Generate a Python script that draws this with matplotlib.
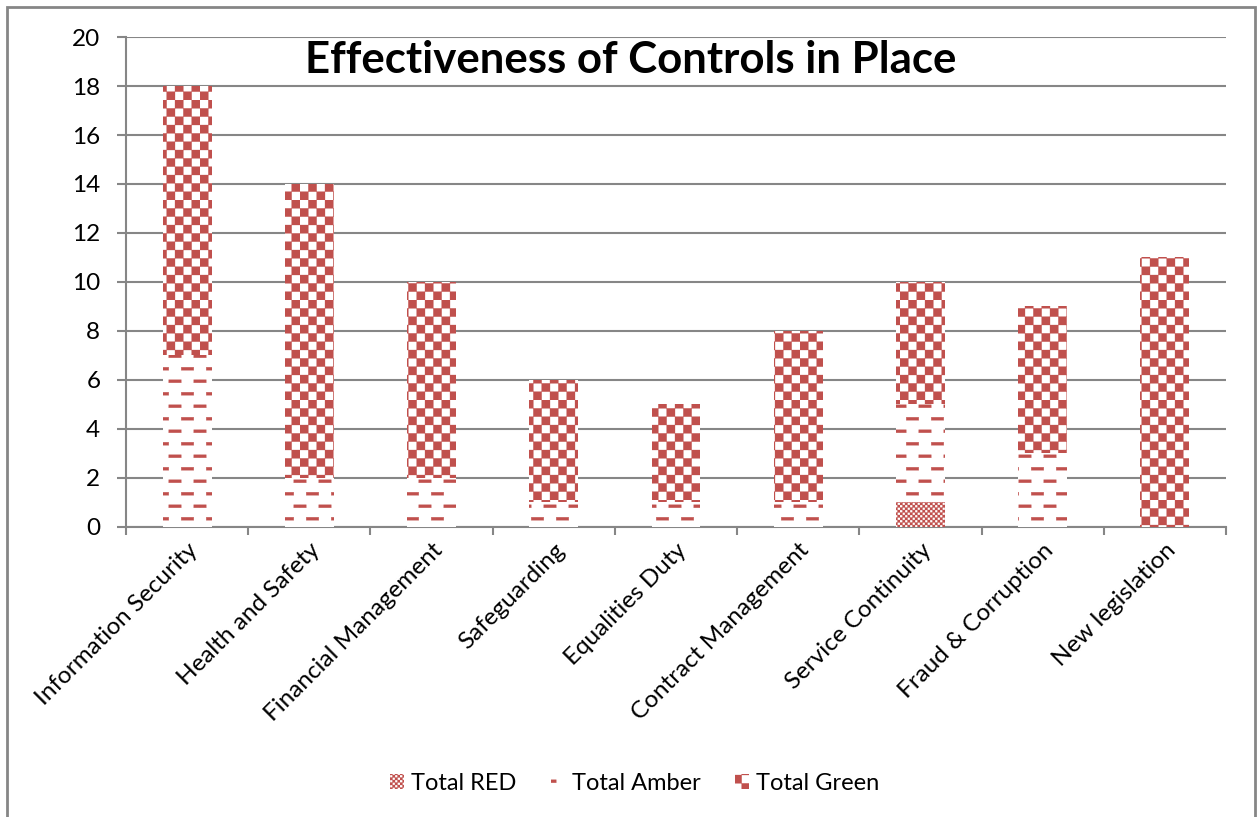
import numpy as np
import matplotlib
matplotlib.use("Agg")
import matplotlib.pyplot as plt
import matplotlib.hatch as mhatch
from matplotlib.path import Path
from matplotlib.patches import Rectangle

# ~~~~~~~~~~ Data ~~~~~~~~~~ #
categories = ["Information Security", "Health and Safety", "Financial Management",
              "Safeguarding", "Equalities Duty", "Contract Management",
              "Service Continuity", "Fraud & Corruption", "New legislation"]
total_red = [0, 0, 0, 0, 0, 0, 1, 0, 0]
total_amber = [7, 2, 2, 1, 1, 1, 4, 3, 0]
total_green = [11, 12, 8, 5, 4, 7, 5, 6, 11]
series_names = ["Total RED", "Total Amber", "Total Green"]
yticks = [0, 2, 4, 6, 8, 10, 12, 14, 16, 18, 20]

RED = "#C0504D"
GRID = "#868686"


# ~~~~~~~~~~ Excel-like fill patterns as hatches ~~~~~~~~~~ #
# hatch tile is one inch (100 px here), counts are per tile
class Checks(mhatch.HatchPatternBase):
    char = "O"
    per = 12

    def __init__(self, hatch, density):
        self.n = self.per if self.char in hatch else 0
        self.num_vertices = 5 * (self.n * self.n // 2)

    def set_vertices_and_codes(self, vertices, codes):
        s = 1.0 / self.n
        k = 0
        for i in range(self.n):
            for j in range(self.n):
                if (i + j) % 2 == 0:
                    x, y = j * s, i * s
                    vertices[k:k + 5] = [(x, y), (x + s, y), (x + s, y + s), (x, y + s), (x, y)]
                    codes[k:k + 5] = [Path.MOVETO, Path.LINETO, Path.LINETO, Path.LINETO, Path.CLOSEPOLY]
                    k += 5


class SmallChecks(Checks):
    char = "o"
    per = 40


class Dashes(mhatch.HatchPatternBase):
    char = "."
    rows = 8
    cols = 4
    thick = 0.03

    def __init__(self, hatch, density):
        on = self.char in hatch
        # odd rows are shifted half a period, so a dash can wrap -> split in two
        self.num_vertices = 5 * (self.rows // 2 * self.cols + self.rows // 2 * (self.cols + 1)) if on else 0

    def set_vertices_and_codes(self, vertices, codes):
        p = 1.0 / self.cols
        h = 1.0 / self.rows
        t = self.thick
        segs = []
        for r in range(self.rows):
            y = r * h + h / 2
            if r % 2 == 0:
                for c in range(self.cols):
                    segs.append((c * p + p / 4, c * p + 3 * p / 4, y))
            else:
                segs.append((0, p / 4, y))
                for c in range(self.cols - 1):
                    segs.append((c * p + 3 * p / 4, c * p + 5 * p / 4, y))
                segs.append((1 - p / 4, 1, y))
        k = 0
        for x0, x1, y in segs:
            vertices[k:k + 5] = [(x0, y - t / 2), (x1, y - t / 2), (x1, y + t / 2), (x0, y + t / 2), (x0, y - t / 2)]
            codes[k:k + 5] = [Path.MOVETO, Path.LINETO, Path.LINETO, Path.LINETO, Path.CLOSEPOLY]
            k += 5


mhatch._hatch_types = [mhatch.HorizontalHatch, mhatch.VerticalHatch,
                       mhatch.NorthEastHatch, mhatch.SouthEastHatch,
                       Checks, SmallChecks, Dashes]

plt.rcParams["font.family"] = ["Lato", "DejaVu Sans"]
plt.rcParams["hatch.linewidth"] = 0.2
plt.rcParams["hatch.color"] = RED

fig = plt.figure(figsize=(12.57, 8.17), dpi=100)
ax = fig.add_axes([0.1002, 0.355, 0.8751, 0.5997])

x = np.arange(len(categories))
width = 0.4
bottom_amber = np.array(total_red)
bottom_green = bottom_amber + np.array(total_amber)
ax.bar(x, total_red, width, color="white", edgecolor=RED, linewidth=0, hatch="o", label=series_names[0], zorder=3)
ax.bar(x, total_amber, width, bottom=bottom_amber, color="white", edgecolor=RED, linewidth=0, hatch=".",
       label=series_names[1], zorder=3)
ax.bar(x, total_green, width, bottom=bottom_green, color="white", edgecolor=RED, linewidth=0, hatch="O",
       label=series_names[2], zorder=3)

# axes, grid
ax.set_xlim(-0.5, len(categories) - 0.5)
ax.set_ylim(0, 20)
ax.set_yticks(yticks)
ax.yaxis.grid(True, color=GRID, linewidth=1.5, zorder=0)
ax.set_axisbelow(True)
for side in ["top", "right"]:
    ax.spines[side].set_visible(False)
for side in ["left", "bottom"]:
    ax.spines[side].set_color(GRID)
    ax.spines[side].set_linewidth(1.5)
ax.tick_params(axis="y", length=6.5, width=1.5, color=GRID, labelsize=17.5, pad=12)

# category ticks sit between the bars
ax.set_xticks(np.arange(len(categories) + 1) - 0.5)
ax.set_xticklabels([])
ax.tick_params(axis="x", which="major", length=6, width=1.5, color=GRID)
ax.set_xticks(x, minor=True)
ax.set_xticklabels(categories, minor=True, rotation=45, ha="right", va="top",
                   rotation_mode="anchor", fontsize=17.5)
ax.tick_params(axis="x", which="minor", length=0, pad=9)

fig.text(0.502, 0.927, "Effectiveness of Controls in Place", ha="center", va="center",
         fontsize=31.5, fontweight="bold")

ax.legend(loc="center", bbox_to_anchor=(0.505, 0.041), bbox_transform=fig.transFigure,
          ncol=3, frameon=False, fontsize=17, handlelength=0.6, handleheight=0.6,
          handletextpad=0.3, columnspacing=1.45)

# chart area border
fig.patches.append(Rectangle((7 / 1257, -0.01), 1248 / 1257, 1 - 7 / 817 + 0.01,
                             transform=fig.transFigure, fill=False,
                             edgecolor=GRID, linewidth=2, zorder=-1))

fig.savefig("out.png", dpi=100)
